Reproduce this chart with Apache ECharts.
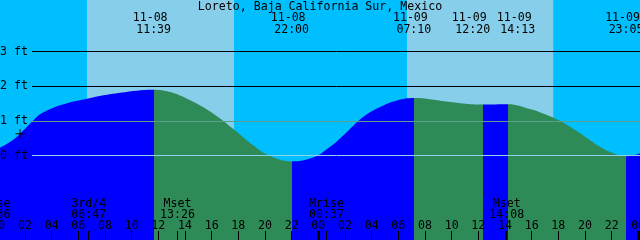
<!DOCTYPE html>
<html><head><meta charset="utf-8">
<script src="https://cdn.jsdelivr.net/npm/echarts@6/dist/echarts.min.js"></script>
<style>html,body{margin:0;padding:0;background:#00bfff}#c{width:640px;height:240px}</style>
</head><body><div id="c"></div>
<script>
// ---- data (hours since 11-08 00:00, heights in ft) ----
const chartTitle = 'Loreto, Baja California Sur, Mexico';
const tideTimes   = [0.0, 0.88, 1.63, 2.6, 3.13, 4.63, 6.65, 9.13, 11.65, 12.9, 14.15, 15.35, 16.63, 17.9, 19.1, 20.2, 22.0, 23.6, 24.88, 26.15, 27.35, 28.63, 29.9, 31.17, 33.6, 34.85, 36.33, 38.22, 39.88, 41.15, 42.13, 42.9, 43.63, 44.38, 45.13, 45.88, 47.08, 48.2];
const tideHeights = [0.20, 0.39, 0.63, 1.0, 1.19, 1.45, 1.64, 1.81, 1.90, 1.83, 1.64, 1.40, 1.07, 0.68, 0.30, 0.02, -0.17, -0.06, 0.25, 0.68, 1.11, 1.40, 1.59, 1.66, 1.56, 1.50, 1.47, 1.48, 1.34, 1.17, 1.0, 0.82, 0.64, 0.44, 0.25, 0.10, -0.02, 0.07];
const eventTimes  = [11.65, 22.0, 31.1667, 36.3333, 38.2167, 47.0833];
const eventKinds  = ['high', 'low', 'high', 'low', 'high', 'low'];
const eventDates  = ['11-08', '11-08', '11-09', '11-09', '11-09', '11-09'];
const eventClock  = ['11:39', '22:00', '07:10', '12:20', '14:13', '23:05'];
const moonTimes   = [-0.4, 6.7833, 13.4333, 24.6167, 38.1333];
const moonNames   = ['Mrise', '3rd/4', 'Mset', 'Mrise', 'Mset'];
const moonClock   = ['23:36', '06:47', '13:26', '00:37', '14:08'];
const sunrises    = [6.65, 30.65];
const sunsets     = [17.68, 41.62];
const footLevels  = [3, 2, 1, 0];
const midnights   = [0, 24, 48];
const nowMark     = [1.63, 0.63];

// ---- layout ----
const FONT = 'DejaVu Sans Mono', FS = 11.6;
const pxPerHour = 320 / 24, xZeroPx = -1.7;
const xMin = -2, xMax = 50;
const gridLeft = xZeroPx + xMin * pxPerHour;
const gridWidth = (xMax - xMin) * pxPerHour;
const zeroY = 155.5, pxPerFt = 34.667;
const yMax = zeroY / pxPerFt, yMin = -(240 - zeroY) / pxPerFt;
const lineStartT = (32 - xZeroPx) / pxPerHour;
const FLOOD = '#0000ff', EBB = '#2e8b57';

function nearest(arr, v) { let b = 0; arr.forEach((a, i) => { if (Math.abs(a - v) < Math.abs(arr[b] - v)) b = i; }); return b; }

// label anchors pushed apart when too close
const minSep = 45 / pxPerHour;
const anchors = eventTimes.slice();
for (let i = 1; i < anchors.length; i++) {
  const gap = anchors[i] - anchors[i - 1];
  if (gap < minSep) { const d = (minSep - gap) / 2; anchors[i - 1] -= d; anchors[i] += d; }
}

const pieces = [];
let prev = null;
eventTimes.forEach((t, i) => {
  const p = { lt: t, color: eventKinds[i] === 'high' ? FLOOD : EBB };
  if (prev !== null) p.gte = prev;
  pieces.push(p); prev = t;
});
pieces.push({ gte: prev, color: eventKinds[eventKinds.length - 1] === 'high' ? EBB : FLOOD });

const lineColors = { 3: '#000000', 2: '#000000', 1: '#5c9d8c', 0: '#8fd2ec' };
const txt = { fontFamily: FONT, fontSize: FS, color: '#000' };
const noLine = { show: false, onZero: false };

const chart = echarts.init(document.getElementById('c'));
chart.setOption({
  backgroundColor: '#00bfff',
  animation: false,
  title: { text: chartTitle, left: 'center', top: 0, padding: 0, textStyle: Object.assign({ fontWeight: 'normal', lineHeight: 13 }, txt) },
  grid: { left: gridLeft, width: gridWidth, top: 0, bottom: 0, containLabel: false, outerBoundsMode: 'none' },
  visualMap: { type: 'piecewise', show: false, dimension: 0, seriesIndex: 0, pieces: pieces },
  xAxis: [
    { type: 'value', min: xMin, max: xMax, interval: 2, position: 'bottom', z: 10,
      axisLine: noLine, splitLine: { show: false },
      axisTick: { inside: true, length: 9, lineStyle: { color: '#000', width: 1 } },
      axisLabel: Object.assign({ inside: true, margin: 8, lineHeight: 12, showMinLabel: true, showMaxLabel: true,
        formatter: v => String(((Math.round(v) % 24) + 24) % 24).padStart(2, '0') }, txt) },
    { type: 'value', min: xMin, max: xMax, position: 'bottom', z: 10,
      axisLine: noLine, splitLine: { show: false },
      axisTick: { show: true, inside: true, length: 9, customValues: moonTimes, lineStyle: { color: '#000', width: 1 } },
      axisLabel: Object.assign({ inside: true, margin: 20, lineHeight: 11, customValues: moonTimes,
        formatter: v => { const i = nearest(moonTimes, v); return moonNames[i] + '\n' + moonClock[i]; } }, txt) },
    { type: 'value', min: xMin, max: xMax, position: 'top', z: 10,
      axisLine: noLine, splitLine: { show: false }, axisTick: { show: false },
      axisLabel: Object.assign({ inside: true, margin: 12, lineHeight: 12, customValues: anchors,
        formatter: v => { const i = nearest(anchors, v); return eventDates[i] + ' \n' + eventClock[i]; } }, txt) },
    { type: 'value', min: xMin, max: xMax, position: 'bottom', z: 10,
      axisLine: noLine, splitLine: { show: false },
      axisTick: { show: true, inside: true, length: 9, customValues: midnights, lineStyle: { color: '#000', width: 3 } },
      axisLabel: { show: false } }
  ],
  yAxis: { type: 'value', min: yMin, max: yMax, show: false, splitLine: { show: false } },
  series: [{
    type: 'line', xAxisIndex: 0,
    data: tideTimes.map((t, i) => [t, tideHeights[i]]),
    smooth: 0.4, showSymbol: false, silent: true,
    lineStyle: { width: 0 },
    areaStyle: { opacity: 1, origin: 'start' },
    z: 2,
    markArea: { silent: true, itemStyle: { color: '#87ceeb' },
      data: sunrises.map((s, i) => [{ xAxis: s }, { xAxis: sunsets[i] }]) },
    markLine: { silent: true, symbol: 'none', animation: false,
      data: footLevels.map(v => [
        { coord: [lineStartT, v], lineStyle: { color: lineColors[v], width: 1, type: 'solid' },
          label: Object.assign({ show: true, position: 'start', distance: 4, formatter: v + ' ft' }, txt) },
        { coord: [xMax, v] }
      ]) },
    markPoint: { silent: true, symbol: 'path://M4,0h1v4h4v1h-4v4h-1v-4h-4v-1h4z', symbolSize: [9, 9],
      itemStyle: { color: '#000' }, label: { show: false },
      data: [{ coord: nowMark }] }
  }]
});
</script></body></html>
